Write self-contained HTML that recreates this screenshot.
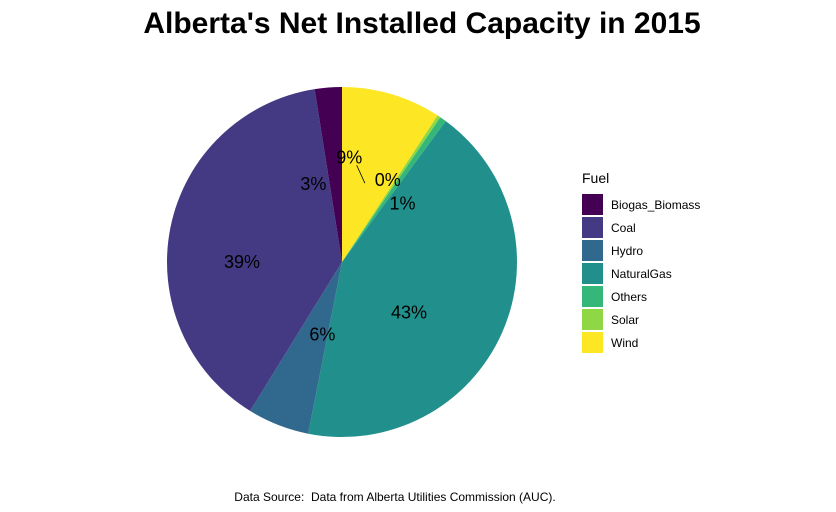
<!DOCTYPE html>
<html><head><meta charset="utf-8"><style>
body{margin:0;background:#fff;}
svg{display:block;font-family:"Liberation Sans",Arial,sans-serif;}
</style></head><body>
<svg id="chart" width="836" height="512" viewBox="0 0 836 512">
<text x="422" y="33" text-anchor="middle" font-size="30" font-weight="bold" fill="#000">Alberta's Net Installed Capacity in 2015</text>
<g id="slices"></g>
<g id="labels"></g>
<g id="legend">
<text x="582" y="183" font-size="14" fill="#000">Fuel</text>
</g>
<text x="395" y="501" text-anchor="middle" font-size="12" fill="#000">Data Source:&#160; Data from Alberta Utilities Commission (AUC).</text>
</svg>
<script>
// data: order clockwise from 12 o'clock
const categories = ["Wind","Solar","Others","NaturalGas","Hydro","Coal","Biogas_Biomass"];
const values = [9.2, 0.3, 0.6, 43.0, 5.7, 38.7, 2.5];
const labelText = ["9%","0%","1%","43%","6%","39%","3%"];
const labelPct = [1.1, 8.1, 12.8, 35.3, 54.2, 75.0, 94.4];
const labelRadius = [105, 94, 84, 84, 75, 100, 83];
const legendOrder = ["Biogas_Biomass","Coal","Hydro","NaturalGas","Others","Solar","Wind"];
const colors = {Biogas_Biomass:"#440154",Coal:"#443A83",Hydro:"#31688E",NaturalGas:"#21908C",Others:"#35B779",Solar:"#8FD744",Wind:"#FDE725"};

const NS="http://www.w3.org/2000/svg";
const cx=342, cy=262, R=175;
const total=values.reduce((a,b)=>a+b,0);
function pt(frac,r){const a=frac*2*Math.PI;return [cx+r*Math.sin(a), cy-r*Math.cos(a)];}
const gS=document.getElementById('slices');
let cum=0;
values.forEach((v,i)=>{
  const f0=cum/total, f1=(cum+v)/total; cum+=v;
  const p0=pt(f0,R), p1=pt(f1,R);
  const large=(f1-f0)>0.5?1:0;
  const p=document.createElementNS(NS,'path');
  p.setAttribute('d',`M${cx},${cy}L${p0[0]},${p0[1]}A${R},${R} 0 ${large} 1 ${p1[0]},${p1[1]}Z`);
  p.setAttribute('fill',colors[categories[i]]);
  
  
  gS.appendChild(p);
});
const gL=document.getElementById('labels');
const ln=document.createElementNS(NS,'line');
const a=pt(labelPct[0]/100,labelRadius[0]-8), b=pt(labelPct[1]/100,labelRadius[1]-6);
ln.setAttribute('x1',a[0]+8);ln.setAttribute('y1',a[1]);ln.setAttribute('x2',b[0]-20);ln.setAttribute('y2',b[1]-2);
ln.setAttribute('stroke','#000');ln.setAttribute('stroke-width','0.8');


gL.appendChild(ln);
labelText.forEach((t,i)=>{
  const p=pt(labelPct[i]/100,labelRadius[i]);
  const tx=document.createElementNS(NS,'text');
  tx.setAttribute('x',p[0]);tx.setAttribute('y',p[1]+6);
  tx.setAttribute('text-anchor','middle');tx.setAttribute('font-size','18');tx.setAttribute('fill','#000');
  tx.textContent=t;
  
  
  gL.appendChild(tx);
});
const gG=document.getElementById('legend');
legendOrder.forEach((c,i)=>{
  const y=194+i*23;
  const r=document.createElementNS(NS,'rect');
  r.setAttribute('x',582);r.setAttribute('y',y);r.setAttribute('width',21);r.setAttribute('height',21);
  r.setAttribute('fill',colors[c]);
  
  
  gG.appendChild(r);
  const t=document.createElementNS(NS,'text');
  t.setAttribute('x',611);t.setAttribute('y',y+15);t.setAttribute('font-size','12');t.setAttribute('fill','#000');
  t.textContent=c;
  
  
  gG.appendChild(t);
});
</script>
</body></html>
